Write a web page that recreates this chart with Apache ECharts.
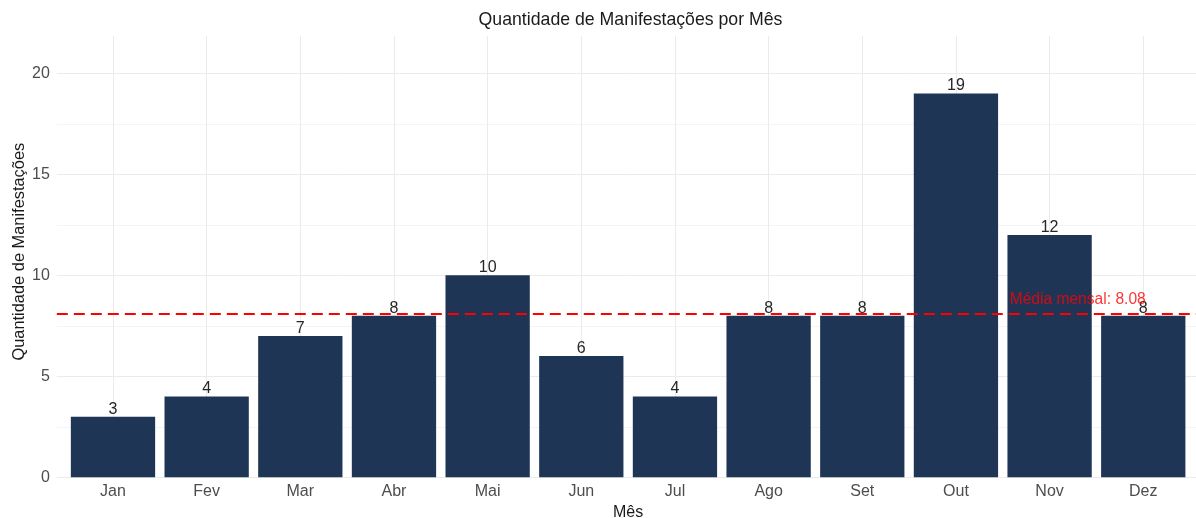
<!DOCTYPE html>
<html>
<head>
<meta charset="utf-8">
<script src="https://cdn.jsdelivr.net/npm/echarts@6/dist/echarts.min.js"></script>
<style>
  html, body { margin: 0; padding: 0; background: #fff; }
  #chart { width: 1196px; height: 518px; }
</style>
</head>
<body>
<div id="chart"></div>
<script>
// dados
const meses = ["Jan", "Fev", "Mar", "Abr", "Mai", "Jun", "Jul", "Ago", "Set", "Out", "Nov", "Dez"];
const quantidades = [3, 4, 7, 8, 10, 6, 4, 8, 8, 19, 12, 8];
const yTicks = [0, 5, 10, 15, 20];

const media = quantidades.reduce((a, b) => a + b, 0) / quantidades.length;
const yMax = Math.max(...quantidades) * 1.15;

// layout (painel estilo ggplot)
const unit = 93.66;
const panelLeft = 56.8;
const panelTop = 36;
const panelHeight = 441.3;
const font = "Liberation Sans";

const chart = echarts.init(document.getElementById("chart"));

const option = {
  animation: false,
  backgroundColor: "#fff",
  textStyle: { fontFamily: font },
  title: {
    text: "Quantidade de Manifestações por Mês",
    left: 625.5,
    textAlign: "center",
    top: 6,
    textStyle: { fontFamily: font, fontSize: 17.7, fontWeight: "normal", color: "#1a1a1a" },
  },
  grid: [
    // painel completo (grade horizontal, linha da média)
    { left: panelLeft, top: panelTop, width: unit * 12.2, height: panelHeight, outerBoundsMode: "none", containLabel: false },
    // barras
    { left: panelLeft + unit * 0.1, top: panelTop, width: unit * 12, height: panelHeight, outerBoundsMode: "none", containLabel: false },
  ],
  xAxis: [
    {
      type: "value",
      gridIndex: 0,
      min: 0.4,
      max: 12.6,
      show: false,
    },
    {
      type: "category",
      gridIndex: 1,
      data: meses,
      axisLine: { show: false },
      axisTick: { show: false },
      axisLabel: { color: "#4d4d4d", fontSize: 16, margin: 6, fontFamily: font },
      splitLine: {
        show: true,
        alignWithLabel: true,
        lineStyle: { color: "#ebebeb", width: 1 },
      },
      name: "Mês",
      nameLocation: "middle",
      nameGap: 25,
      nameTextStyle: { color: "#1a1a1a", fontSize: 16, fontFamily: font },
    },
  ],
  yAxis: [
    {
      type: "value",
      gridIndex: 0,
      min: 0,
      max: yMax,
      interval: 2.5,
      axisLine: { show: false },
      axisTick: { show: false },
      axisLabel: {
        color: "#4d4d4d",
        fontSize: 16,
        margin: 7,
        fontFamily: font,
        showMaxLabel: false,
        formatter: (v) => (yTicks.indexOf(v) >= 0 ? String(v) : ""),
      },
      splitLine: {
        show: true,
        lineStyle: {
          width: 1,
          // maior / menor alternando, o último (extremo) invisível
          color: ["#ebebeb", "#f4f4f4", "#ebebeb", "#f4f4f4", "#ebebeb", "#f4f4f4", "#ebebeb", "#f4f4f4", "#ebebeb", "rgba(0,0,0,0)"],
        },
      },
      name: "Quantidade de Manifestações",
      nameLocation: "middle",
      nameGap: 29,
      nameMoveOverlap: false,
      nameTextStyle: { color: "#1a1a1a", fontSize: 16.4, fontFamily: font, padding: [0, 0, 0, 10] },
    },
    {
      type: "value",
      gridIndex: 1,
      min: 0,
      max: yMax,
      show: false,
      splitLine: { show: false },
    },
  ],
  series: [
    {
      type: "bar",
      xAxisIndex: 1,
      yAxisIndex: 1,
      data: quantidades,
      barCategoryGap: "10%",
      itemStyle: { color: "#1f3556" },
      label: {
        show: true,
        position: "top",
        distance: -0.5,
        color: "#262626",
        fontSize: 16,
        fontFamily: font,
      },
      z: 2,
    },
    {
      // linha da média mensal
      type: "line",
      xAxisIndex: 0,
      yAxisIndex: 0,
      data: [[0.4, media], [12.6, media]],
      symbol: "none",
      silent: true,
      lineStyle: { color: "#ff0000", width: 2, type: [11, 6] },
      z: 3,
    },
    {
      // texto da média
      type: "scatter",
      xAxisIndex: 0,
      yAxisIndex: 0,
      data: [[11.3, media + 0.7]],
      symbolSize: 0,
      silent: true,
      label: {
        show: true,
        position: "inside",
        formatter: "Média mensal: " + media.toFixed(2),
        color: "#ff0000",
        fontSize: 15.6,
        fontFamily: font,
      },
      z: 4,
    },
  ],
};

chart.setOption(option);
</script>
</body>
</html>
